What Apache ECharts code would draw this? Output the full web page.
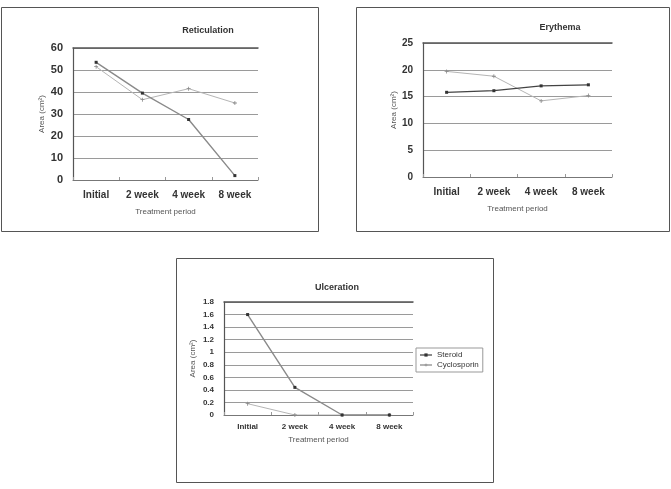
<!DOCTYPE html>
<html>
<head>
<meta charset="utf-8">
<script src="https://cdn.jsdelivr.net/npm/echarts@6/dist/echarts.min.js"></script>
<style>
  html, body { margin: 0; padding: 0; background: #fff; }
  #main { width: 671px; height: 489px; }
</style>
</head>
<body>
<div id="main"></div>
<script>
// categories shared by all three panels
const periods = ["Initial", "2 week", "4 week", "8 week"];

// Reticulation
const retSteroid = [53.5, 39.5, 27.5, 2];
const retCyclo = [51.5, 36.5, 41.5, 35];
// Erythema
const eryCyclo = [19.7, 18.8, 14.2, 15.2];
const erySteroid = [15.8, 16.1, 17, 17.2];
// Ulceration
const ulcSteroid = [1.6, 0.44, 0, 0];
const ulcCyclo = [0.18, 0, 0, 0];

const titles = ["Reticulation", "Erythema", "Ulceration"];

var myChart = echarts.init(document.getElementById("main"));

const plusPath = "path://M4,0 L6,0 L6,4 L10,4 L10,6 L6,6 L6,10 L4,10 L4,6 L0,6 L0,4 L4,4 Z";
const font = "Liberation Sans, Arial, sans-serif";

// plot areas [left, top, width, height]
const grids = [
  { left: 73, top: 48, width: 185, height: 132 },
  { left: 423, top: 43, width: 189, height: 134 },
  { left: 224, top: 302, width: 189, height: 113 },
];
const yCfg = [
  { max: 60, interval: 10, gap: 27, fs: 11 },
  { max: 25, interval: 5, gap: 24, fs: 10 },
  { max: 1.8, interval: 0.2, gap: 27, fs: 8 },
];
const xFs = [10, 10, 8];

function xAxisFor(i) {
  return {
    type: "category",
    gridIndex: i,
    data: periods,
    boundaryGap: true,
    axisLine: { lineStyle: { color: "#777", width: 1 } },
    axisTick: { show: true, inside: true, length: 3, lineStyle: { color: "#999" } },
    axisLabel: { interval: 0, color: "#333", fontSize: xFs[i], fontWeight: "bold", fontFamily: font, margin: i === 2 ? 8 : 10 },
    name: "Treatment period",
    nameLocation: "middle",
    nameGap: i === 2 ? 21 : 28,
    nameTextStyle: { color: "#555", fontSize: 8, fontFamily: font },
  };
}
function topAxisFor(i) {
  return {
    type: "category",
    gridIndex: i,
    position: "top",
    data: periods,
    axisLine: { lineStyle: { color: "#555", width: 1.5 } },
    axisTick: { show: false },
    axisLabel: { show: false },
  };
}
function yAxisFor(i) {
  const c = yCfg[i];
  return {
    type: "value",
    gridIndex: i,
    min: 0,
    max: c.max,
    interval: c.interval,
    axisLine: { show: true, lineStyle: { color: "#555", width: 1.2 } },
    axisTick: { show: false },
    axisLabel: { color: "#333", fontSize: c.fs, fontWeight: "bold", fontFamily: font, margin: 10 },
    splitLine: { lineStyle: { color: "#9a9a9a", width: 1 } },
    name: "Area (cm\u00b2)",
    nameLocation: "middle",
    nameRotate: 90,
    nameGap: c.gap,
    nameTextStyle: { color: "#555", fontSize: 8, fontFamily: font },
  };
}

function steroid(data, i) {
  return {
    name: "Steroid",
    type: "line",
    xAxisIndex: i * 2,
    yAxisIndex: i,
    data: data,
    symbol: "rect",
    symbolSize: 3,
    lineStyle: { color: "#8a8a8a", width: 1.4 },
    itemStyle: { color: "#333" },
    z: 3,
  };
}
function cyclo(data, i) {
  return {
    name: "Cyclosporin",
    type: "line",
    xAxisIndex: i * 2,
    yAxisIndex: i,
    data: data,
    symbol: plusPath,
    symbolSize: 4,
    lineStyle: { color: "#b5b5b5", width: 1 },
    itemStyle: { color: "#888" },
    z: 2,
  };
}

const xAxes = [];
[0, 1, 2].forEach(function (i) {
  xAxes.push(xAxisFor(i));
  xAxes.push(topAxisFor(i));
});

const eryS = steroid(erySteroid, 1);
eryS.lineStyle = { color: "#444", width: 1.2 };

const option = {
  animation: false,
  backgroundColor: "#fff",
  title: [
    { text: titles[0], left: 203, top: 21, textAlign: "center" },
    { text: titles[1], left: 555, top: 18, textAlign: "center" },
    { text: titles[2], left: 332, top: 278, textAlign: "center" },
  ].map(function (t) {
    t.textStyle = { color: "#333", fontSize: 9, fontWeight: "bold", fontFamily: font };
    return t;
  }),
  legend: {
    show: true,
    left: 416,
    top: 348,
    orient: "vertical",
    data: ["Steroid", "Cyclosporin"],
    itemWidth: 12,
    itemHeight: 4,
    itemGap: 2,
    padding: [3, 4, 3, 3],
    borderColor: "#999",
    borderWidth: 1,
    textStyle: { color: "#333", fontSize: 8, fontFamily: font },
  },
  grid: grids,
  xAxis: xAxes,
  yAxis: [yAxisFor(0), yAxisFor(1), yAxisFor(2)],
  series: [
    cyclo(retCyclo, 0),
    steroid(retSteroid, 0),
    cyclo(eryCyclo, 1),
    eryS,
    cyclo(ulcCyclo, 2),
    steroid(ulcSteroid, 2),
  ],
  graphic: [
    { type: "rect", shape: { x: 1.5, y: 7.5, width: 317, height: 224 }, style: { fill: null, stroke: "#555", lineWidth: 1 } },
    { type: "rect", shape: { x: 356.5, y: 7.5, width: 313, height: 224 }, style: { fill: null, stroke: "#555", lineWidth: 1 } },
    { type: "rect", shape: { x: 176.5, y: 258.5, width: 317, height: 224 }, style: { fill: null, stroke: "#555", lineWidth: 1 } },
  ],
};

myChart.setOption(option);
</script>
</body>
</html>
